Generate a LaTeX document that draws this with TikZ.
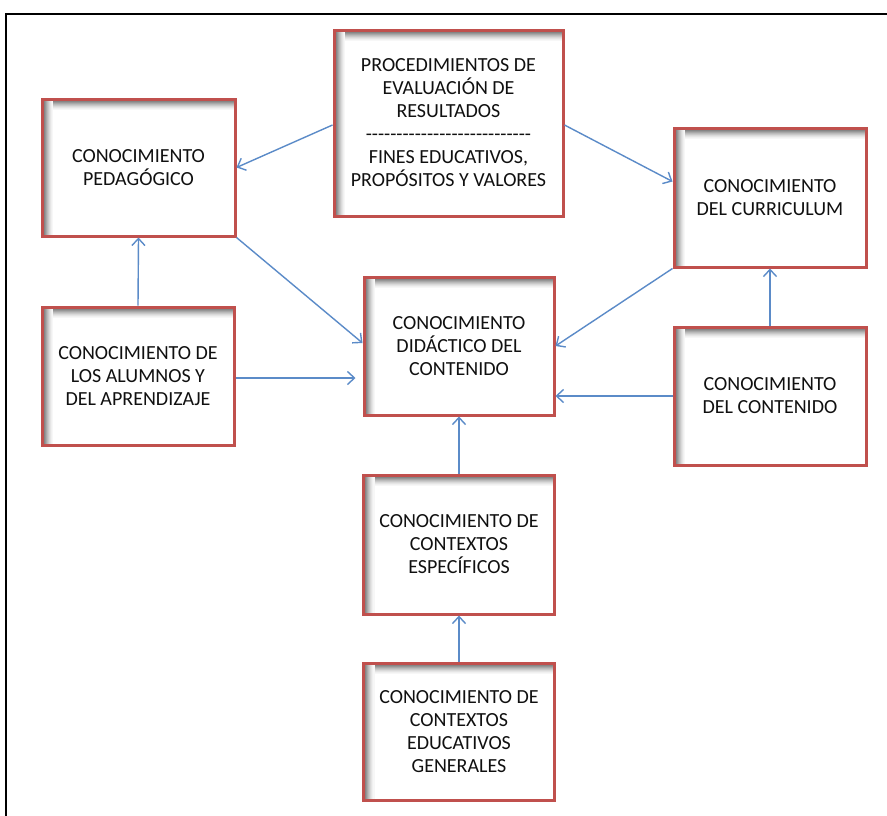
\documentclass[tikz,border=0pt]{standalone}
\usepackage{fontspec}
\newfontfamily\boxfont{Carlito}
\usetikzlibrary{arrows.meta}
\definecolor{boxred}{HTML}{C0504D}
\definecolor{arrowblue}{HTML}{5B8BC8}
\definecolor{txt}{HTML}{101010}
\tikzset{
  kbox/.style={draw=boxred, line width=3pt, fill=white, align=center, inner sep=0pt,
    text=txt, font=\boxfont\fontsize{20}{23}\selectfont,
    path picture={
      \foreach \i/\c in {1.5/55,2.5/48,3.5/41,4.5/34,5.5/27,6.5/21,7.5/15,8.5/10,9.5/6,10.5/3} {
        \draw[black!\c, line width=1.05pt]
          ([xshift=\i pt]path picture bounding box.north west) -- ([xshift=\i pt]path picture bounding box.south west);
        \draw[black!\c, line width=1.05pt]
          ([xshift=\i pt, yshift=-\i pt]path picture bounding box.north west) -- ([yshift=-\i pt]path picture bounding box.north east);
      }
    }},
  bsize/.style 2 args={minimum width=#1pt, minimum height=#2pt},
  conn/.style={draw=arrowblue, line width=1.4pt, -{Straight Barb[length=7pt,width=13pt,line width=1.4pt]}},
}
\begin{document}
\begin{tikzpicture}[x=1pt,y=-1pt]
\useasboundingbox (0,0) rectangle (887,815);
\fill[white] (0,0) rectangle (887,815);
\draw[line width=2.4pt, black] (6,830) -- (6,14) -- (900,14);

\node[kbox, bsize={229}{186}] (top) at (448.5,123)
  {PROCEDIMIENTOS DE\\EVALUACIÓN DE\\RESULTADOS\\---------------------------\\FINES EDUCATIVOS,\\PROPÓSITOS Y VALORES};
\node[kbox, bsize={193}{137}] (ped) at (138.5,167.5) {CONOCIMIENTO\\PEDAGÓGICO};
\node[kbox, bsize={192}{139}] (cur) at (770,197.5) {CONOCIMIENTO\\DEL CURRICULUM};
\node[kbox, bsize={190}{138}] (cen) at (459,346) {CONOCIMIENTO\\DIDÁCTICO DEL\\CONTENIDO};
\node[kbox, bsize={192}{138}] (alu) at (138,376) {CONOCIMIENTO DE\\LOS ALUMNOS Y\\DEL APRENDIZAJE};
\node[kbox, bsize={192}{138}] (con) at (770,396) {CONOCIMIENTO\\DEL CONTENIDO};
\node[kbox, bsize={191}{139}] (esp) at (459,544.5) {CONOCIMIENTO DE\\CONTEXTOS\\ESPECÍFICOS};
\node[kbox, bsize={191}{137}] (gen) at (459,731.5) {CONOCIMIENTO DE\\CONTEXTOS\\EDUCATIVOS\\GENERALES};

\draw[conn] ([yshift=-2pt]top.west) -- (ped.east);
\draw[conn] ([yshift=-2pt]top.east) -- ([yshift=16pt]cur.west);
\draw[conn] (ped.south east) -- ([yshift=3pt]cen.west);
\draw[conn] (cur.south west) -- (cen.east);
\draw[conn] (alu.north) -- (ped.south);
\draw[conn, shorten >=7pt] ([yshift=-2pt]alu.east) -- ([yshift=-2pt]alu.east -| cen.west);
\draw[conn] (con.west) -- (con.west -| cen.east);
\draw[conn] (con.north) -- (cur.south);
\draw[conn] (esp.north) -- (cen.south);
\draw[conn] (gen.north) -- (esp.south);
\end{tikzpicture}
\end{document}
